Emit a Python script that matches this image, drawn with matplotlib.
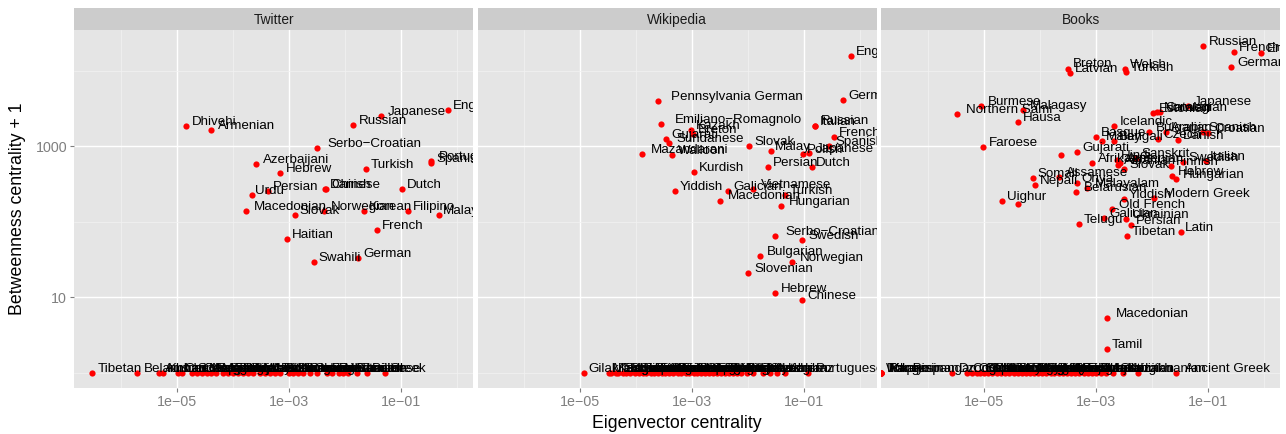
import matplotlib
matplotlib.use('Agg')
import matplotlib.pyplot as plt
import matplotlib.ticker as mticker
from matplotlib.font_manager import FontProperties
from matplotlib.textpath import TextPath
import numpy as np

plt.rcParams['font.family'] = ['Liberation Sans', 'DejaVu Sans']

facets = ['Twitter', 'Wikipedia', 'Books']

# labelled languages: eigenvector centrality, betweenness centrality + 1
twitter_names = ['Dhivehi', 'Armenian', 'Russian', 'Japanese', 'English', 'Serbo−Croatian',
                 'Azerbaijani', 'Hebrew', 'Turkish', 'Portuguese', 'Spanish', 'Urdu', 'Persian',
                 'Chinese', 'Danish', 'Dutch', 'Macedonian', 'Slovak', 'Norwegian', 'Korean',
                 'Filipino', 'Malay', 'French', 'Haitian', 'Swahili', 'German']
twitter_eig = [1.5e-05, 4.2e-05, 1.4e-02, 4.4e-02, 0.70, 3.2e-03,
               2.6e-04, 7.1e-04, 2.4e-02, 0.35, 0.35, 2.2e-04, 4.2e-04,
               4.6e-03, 4.5e-03, 0.107, 1.7e-04, 1.3e-03, 4.3e-03, 2.2e-02,
               0.133, 0.48, 3.7e-02, 9.4e-04, 2.8e-03, 1.7e-02]
twitter_btw = [1875, 1645, 1930, 2520, 3020, 957,
               589, 447, 505, 644, 607, 229, 254,
               272, 270, 274, 140, 123, 140, 140,
               140, 123, 78.5, 59.7, 29.4, 33.5]

# languages with zero betweenness (plotted at betweenness + 1 = 1)
twitter_zero_names = ['Tibetan', 'Belarusian', 'Amharic', 'Khmer', 'Chechen', 'Lao', 'Sinhala',
                      'Georgian', 'Mongolian', 'Nepali', 'Bengali', 'Marathi', 'Kannada', 'Telugu',
                      'Tamil', 'Punjabi', 'Gujarati', 'Malayalam', 'Icelandic', 'Welsh', 'Latvian',
                      'Lithuanian', 'Estonian', 'Bosnian', 'Slovenian', 'Albanian', 'Bulgarian',
                      'Croatian', 'Czech', 'Hungarian', 'Finnish', 'Romanian', 'Ukrainian',
                      'Vietnamese', 'Swedish', 'Thai', 'Polish', 'Greek']
twitter_zero_eig = [3.1e-07, 1.95e-06, 4.8e-06, 5.8e-06, 1.05e-05, 1.23e-05, 1.86e-05,
                    2.3e-05, 2.8e-05, 3.5e-05, 4.2e-05, 5.1e-05, 6.8e-05, 8.3e-05,
                    1.02e-04, 1.26e-04, 1.55e-04, 1.9e-04, 2.3e-04, 3.1e-04, 3.8e-04,
                    4.7e-04, 5.7e-04, 7.0e-04, 1.0e-03, 1.2e-03, 1.5e-03,
                    1.8e-03, 2.4e-03, 3.2e-03, 4.8e-03, 5.9e-03, 7.8e-03,
                    9.5e-03, 1.16e-02, 1.64e-02, 2.5e-02, 5.2e-02]

wiki_names = ['English', 'Pennsylvania German', 'German', 'Emiliano−Romagnolo', 'Kazakh', 'Breton',
              'Italian', 'Russian', 'French', 'Spanish', 'Gujarati', 'Sundanese', 'Mazandarani',
              'Walloon', 'Slovak', 'Malay', 'Polish', 'Japanese', 'Persian', 'Dutch', 'Kurdish',
              'Yiddish', 'Galician', 'Vietnamese', 'Turkish', 'Macedonian', 'Hungarian',
              'Serbo−Croatian', 'Swedish', 'Bulgarian', 'Norwegian', 'Slovenian', 'Hebrew', 'Chinese']
wiki_eig = [0.67, 2.4e-04, 0.48, 2.8e-04, 9.5e-04, 1.02e-03,
            0.156, 0.157, 0.34, 0.28, 3.4e-04, 3.8e-04, 1.29e-04,
            4.4e-04, 1.04e-02, 2.5e-02, 9.3e-02, 0.122, 2.2e-02, 0.136, 1.05e-03,
            4.9e-04, 4.3e-03, 1.2e-02, 4.5e-02, 3.1e-03, 3.9e-02,
            3.0e-02, 9.2e-02, 1.62e-02, 6.1e-02, 9.9e-03, 3.0e-02, 9.1e-02]
wiki_btw = [15850, 3980, 4100, 1970, 1645, 1442,
            1875, 1880, 1340, 1000, 1238, 1116, 798,
            774, 1018, 875, 798, 822, 537, 537, 453,
            258, 258, 274, 229, 191, 163,
            65.5, 57.4, 35.6, 29.6, 21.2, 11.4, 9.2]

wiki_zero_names = ['Gilaki', 'Manx', 'Kashubian', 'Tongan', 'Sardinian', 'Romansh', 'Ligurian',
                   'Neapolitan', 'Sicilian', 'Faroese', 'Lombard', 'Piedmontese', 'Venetian',
                   'Friulian', 'Aragonese', 'Asturian', 'Occitan', 'Corsican', 'Scots', 'Frisian',
                   'Limburgish', 'Luxembourgish', 'Alemannic', 'Bavarian', 'Upper Sorbian',
                   'Silesian', 'Samogitian', 'Latgalian', 'Erzya', 'Chuvash', 'Tatar', 'Bashkir',
                   'Udmurt', 'Komi', 'Yakut', 'Buryat', 'Kalmyk', 'Ossetian', 'Chechen', 'Avar',
                   'Lezgian', 'Abkhaz', 'Portuguese']
wiki_zero_eig = [1.17e-05, 3.2e-05, 3.5e-05, 4.3e-05, 4.8e-05, 5.9e-05, 6.6e-05,
                 7.7e-05, 9.4e-05, 1.1e-04, 1.3e-04, 1.5e-04, 1.8e-04,
                 2.1e-04, 2.4e-04, 2.9e-04, 3.3e-04, 3.9e-04, 4.6e-04, 5.5e-04,
                 6.3e-04, 7.6e-04, 8.8e-04, 1.05e-03, 1.2e-03,
                 1.45e-03, 1.7e-03, 2.0e-03, 2.3e-03, 2.8e-03, 3.2e-03, 3.8e-03,
                 4.5e-03, 5.3e-03, 6.2e-03, 7.5e-03, 9.3e-03, 1.23e-02, 1.86e-02, 2.45e-02,
                 3.2e-02, 4.5e-02, 0.117]

books_names = ['Russian', 'French', 'English', 'German', 'Breton', 'Latvian', 'Welsh', 'Turkish',
               'Burmese', 'Northern Sami', 'Malagasy', 'Hausa', 'Faroese', 'Estonian', 'Norwegian',
               'Catalan', 'Japanese', 'Icelandic', 'Basque', 'Malay', 'Bengali', 'Bulgarian',
               'Czech', 'Arabic', 'Danish', 'Spanish', 'Croatian', 'Gujarati', '', 'Afrikaans',
               'Hindi', 'Armenian', 'Albanian', 'Slovak', 'Sanskrit', 'Finnish', 'Swedish',
               'Italian', 'Hebrew', 'Hungarian', 'Somali', 'Assamese', 'Nepali', 'Oriya',
               'Malayalam', 'Belarusian', 'Uighur', '', 'Modern Greek', 'Yiddish', 'Old French',
               'Galician', 'Ukrainian', 'Persian', 'Telugu', 'Tibetan', 'Latin', 'Macedonian', 'Tamil']
books_eig = [8.2e-02, 0.29, 0.89, 0.26, 3.2e-04, 3.4e-04, 3.3e-03, 3.4e-03,
             8.95e-06, 3.3e-06, 5.0e-05, 4.0e-05, 9.6e-06, 1.05e-02, 1.2e-02,
             1.4e-02, 4.3e-02, 2.05e-03, 1.0e-03, 1.27e-03, 2.05e-03, 8.9e-03,
             1.3e-02, 1.8e-02, 2.9e-02, 8.1e-02, 0.10, 4.6e-04, 2.4e-04, 8.4e-04,
             2.4e-03, 2.7e-03, 2.5e-03, 3.2e-03, 5.2e-03, 2.2e-02, 3.5e-02,
             9.1e-02, 2.3e-02, 2.7e-02, 7.4e-05, 2.2e-04, 8.1e-05, 4.6e-04,
             7.0e-04, 4.45e-04, 2.1e-05, 4.0e-05, 1.1e-02, 3.1e-03, 1.9e-03,
             1.38e-03, 3.4e-03, 4.2e-03, 4.9e-04, 3.5e-03, 3.35e-02, 1.6e-03, 1.6e-03]
books_btw = [21500, 17700, 17400, 11300, 10700, 9440, 10470, 9730,
             3420, 2680, 3030, 2120, 988, 2790, 2840,
             2860, 3420, 1857, 1340, 1186, 1186, 1560,
             1238, 1560, 1212, 1560, 1514, 833, 767, 596,
             659, 601, 565, 500, 700, 553, 625,
             638, 408, 369, 384, 396, 310, 330,
             278, 251, 190, 174, 208, 200, 148,
             113, 109, 90.7, 94.4, 64.9, 72.6, 5.3, 2.08]

# eigenvector centrality 0 -> drawn at the left edge (-Inf on a log scale)
books_zero_names = ['Tok Pisin', 'Ilokano', 'Pangasinan', 'Waray', 'Kapampangan', 'Dzongkha',
                    'Cornish', 'Chamorro', 'Scottish Gaelic', 'Coptic', 'Gothic', 'Manx', 'Pali',
                    'Javanese', 'Lao', 'Kannada', 'Sindhi', 'Pashto', 'Kurdish', 'Kyrgyz', 'Tatar',
                    'Mongolian', 'Khmer', 'Amharic', 'Tigrinya', 'Yoruba', 'Igbo', 'Zulu', 'Xhosa',
                    'Shona', 'Quechua', 'Maori', 'Samoan', 'Tongan', 'Fijian', 'Hawaiian', 'Sinhala',
                    'Punjabi', 'Marathi', 'Urdu', 'Georgian', 'Kazakh', 'Lithuanian', 'Ancient Greek']
books_zero_eig = [0, 0, 0, 0, 0, 2.67e-06,
                  5.0e-06, 6.0e-06, 7.4e-06, 8.5e-06, 1.0e-05, 1.2e-05, 1.4e-05,
                  1.7e-05, 2.0e-05, 2.4e-05, 2.8e-05, 3.4e-05, 4.0e-05, 4.7e-05, 5.6e-05,
                  6.7e-05, 7.8e-05, 9.2e-05, 1.1e-04, 1.3e-04, 1.55e-04, 1.8e-04, 2.2e-04,
                  2.6e-04, 3.0e-04, 3.6e-04, 4.3e-04, 5.0e-04, 6.0e-04, 7.1e-04, 8.5e-04,
                  1.0e-03, 1.25e-03, 1.5e-03, 2.0e-03, 3.0e-03, 5.5e-03, 2.66e-02]

panels = {
    'Twitter': (twitter_names, twitter_eig, twitter_btw, twitter_zero_names, twitter_zero_eig),
    'Wikipedia': (wiki_names, wiki_eig, wiki_btw, wiki_zero_names, wiki_zero_eig),
    'Books': (books_names, books_eig, books_btw, books_zero_names, books_zero_eig),
}

XMIN, XMAX = 10 ** -6.83, 10 ** 0.29
YMIN, YMAX = 10 ** -0.205, 10 ** 4.54

W, H = 1286, 434
fig = plt.figure(figsize=(W / 100, H / 100), dpi=100)
lefts = [74, 477.7, 881.4]
pw = 399
ptop, pbot, stop = 30, 388.3, 8

fp = FontProperties(family='Liberation Sans', size=9.6)

for i, name in enumerate(facets):
    names, eig, btw, znames, zeig = panels[name]
    assert len(names) == len(eig) == len(btw)
    assert len(znames) == len(zeig)

    ax = fig.add_axes([lefts[i] / W, (H - pbot) / H, pw / W, (pbot - ptop) / H])
    ax.set_facecolor('#E5E5E5')
    ax.set_xscale('log')
    ax.set_yscale('log')
    ax.set_xlim(XMIN, XMAX)
    ax.set_ylim(YMIN, YMAX)
    ax.set_xticks([1e-5, 1e-3, 1e-1])
    ax.set_xticklabels(['1e−05', '1e−03', '1e−01'])
    ax.set_xticks([1e-6, 1e-4, 1e-2, 1], minor=True)
    ax.set_yticks([10, 1000])
    ax.set_yticklabels(['10', '1000'])
    ax.set_yticks([1, 100, 10000], minor=True)
    ax.xaxis.set_minor_formatter(mticker.NullFormatter())
    ax.yaxis.set_minor_formatter(mticker.NullFormatter())
    ax.grid(which='major', color='white', lw=1.0)
    ax.grid(which='minor', color='#F2F2F2', lw=0.5)
    ax.set_axisbelow(True)
    for s in ax.spines.values():
        s.set_visible(False)
    ax.tick_params(which='major', length=3, width=0.8, color='#7F7F7F',
                   labelcolor='#7F7F7F', labelsize=10.3, pad=2)
    ax.tick_params(which='minor', length=0)
    if i > 0:
        ax.tick_params(axis='y', which='major', length=0, labelleft=False)

    # points
    xs = np.array(list(eig) + list(zeig), dtype=float)
    ys = np.array(list(btw) + [1.0] * len(zeig), dtype=float)
    labs = list(names) + list(znames)
    xs = np.where(xs > 0, xs, XMIN)
    ax.scatter(xs, ys, s=20, c='#FF0000', linewidths=0, zorder=2)

    # labels, shifted right by a tenth of their own width
    for lab, x, y in zip(labs, xs, ys):
        if not lab:
            continue
        w = TextPath((0, 0), lab, prop=fp).get_extents().width
        t = ax.annotate(lab, (x, y), xytext=(0.1 * w + 0.7, 0.8), textcoords='offset points',
                        ha='left', va='baseline', fontproperties=fp, color='black',
                        annotation_clip=False, zorder=3)
        t.set_clip_on(True)
        t.set_clip_path(ax.patch)

    # facet strip
    sax = fig.add_axes([lefts[i] / W, (H - ptop) / H, pw / W, (ptop - stop) / H])
    sax.set_facecolor('#CCCCCC')
    sax.set_xticks([])
    sax.set_yticks([])
    for s in sax.spines.values():
        s.set_visible(False)
    sax.text(0.5, 0.45, name, ha='center', va='center', fontsize=9.9, color='#1A1A1A',
             transform=sax.transAxes)

fig.text(677 / W, 1 - 423 / H, 'Eigenvector centrality', ha='center', va='center', fontsize=12.8)
fig.text(18 / W, 1 - 209 / H, 'Betweenness centrality + 1', ha='center', va='center',
         rotation=90, fontsize=12.8)

fig.savefig('out.png', dpi=100)
